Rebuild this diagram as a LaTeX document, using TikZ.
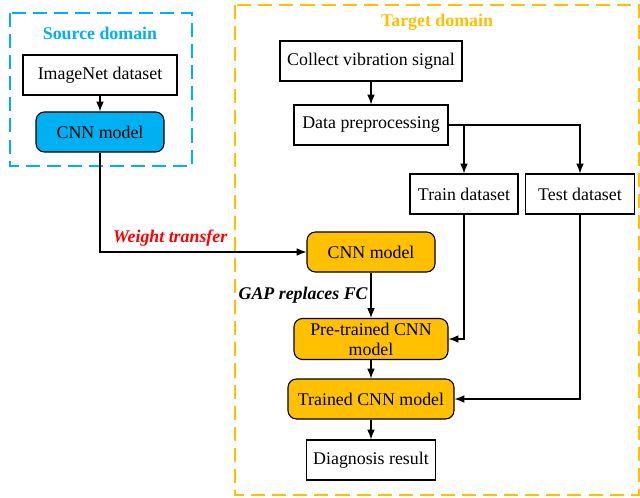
\documentclass[tikz,border=0pt]{standalone}
\usepackage{fontspec}
\setmainfont{Liberation Serif}
\usepackage{xcolor}
\usetikzlibrary{arrows.meta}
\definecolor{srcblue}{HTML}{00B0F0}
\definecolor{tgtorange}{HTML}{FFC000}
\definecolor{wtred}{HTML}{FF0000}

\begin{document}
\begin{tikzpicture}[node distance=1.5cm, auto, font=\fontsize{12.7}{14.2}\selectfont]
    % Define styles
    \tikzstyle{box} = [rectangle, draw, line width=0.8pt, text centered, align=center, minimum height=1cm, inner sep=2pt]
    \tikzstyle{srcmodel} = [box, fill=srcblue, rounded corners=6pt]
    \tikzstyle{tgtmodel} = [box, fill=tgtorange, rounded corners=6pt]
    \tikzstyle{domainframe} = [line width=1.4pt, dash pattern=on 10pt off 5pt]
    \tikzstyle{arrow} = [line width=0.8pt, -{Latex[length=7pt,width=5.5pt]}]
    \useasboundingbox (0,0) rectangle (16,-12.45);

    % Domain frames
    \draw [domainframe, srcblue] (0.25,-0.325) rectangle (4.8,-4.15);
    \draw [domainframe, tgtorange] (5.875,-0.125) rectangle (15.97,-12.375);
    \node [text=srcblue, font=\fontsize{12.7}{14.2}\selectfont\bfseries] (srctitle) at (2.5,-0.825) {Source domain};
    \node [text=tgtorange, font=\fontsize{12.7}{14.2}\selectfont\bfseries] (tgttitle) at (10.925,-0.55) {Target domain};

    % Source domain
    \node [box, minimum width=3.85cm] (imagenet) at (2.5,-1.875) {ImageNet dataset};
    \node [srcmodel, minimum width=3.2cm, below of=imagenet, node distance=1.425cm] (srccnn) {CNN model};

    % Target domain
    \node [box, minimum width=4.55cm] (collect) at (9.275,-1.525) {Collect vibration signal};
    \node [box, minimum width=3.85cm, below of=collect, node distance=1.6cm] (prep) {Data preprocessing};
    \node [box, minimum width=2.7cm] (train) at (11.6,-4.85) {Train dataset};
    \node [box, minimum width=2.725cm, right of=train, node distance=2.9cm] (test) {Test dataset};
    \node [tgtmodel, minimum width=3.2cm, below of=prep, node distance=3.175cm] (tgtcnn) {CNN model};
    \node [tgtmodel, minimum width=3.85cm, minimum height=1.025cm, below of=tgtcnn, node distance=2.175cm] (pretrained) {Pre-trained CNN\\model};
    \node [tgtmodel, minimum width=4.15cm, below of=pretrained, node distance=1.5cm] (trained) {Trained CNN model};
    \node [box, minimum width=3.225cm, below of=trained, node distance=1.525cm] (diag) {Diagnosis result};

    % Arrows
    \draw [arrow] (imagenet) -- (srccnn);
    \draw [arrow] (srccnn) |- node [pos=0.67, above, text=wtred, font=\fontsize{12.7}{14.2}\selectfont\bfseries\itshape] {Weight transfer} (tgtcnn);
    \draw [arrow] (collect) -- (prep);
    \draw [arrow] (prep.east) -| (train.north);
    \draw [arrow] (prep.east) -| (test.north);
    \draw [arrow] (tgtcnn) -- node [left, inner sep=2pt, font=\fontsize{12.7}{14.2}\selectfont\bfseries\itshape] {GAP replaces FC} (pretrained);
    \draw [arrow] (train.south) |- (pretrained.east);
    \draw [arrow] (pretrained) -- (trained);
    \draw [arrow] (test.south) |- (trained.east);
    \draw [arrow] (trained) -- (diag);
\end{tikzpicture}
\end{document}
